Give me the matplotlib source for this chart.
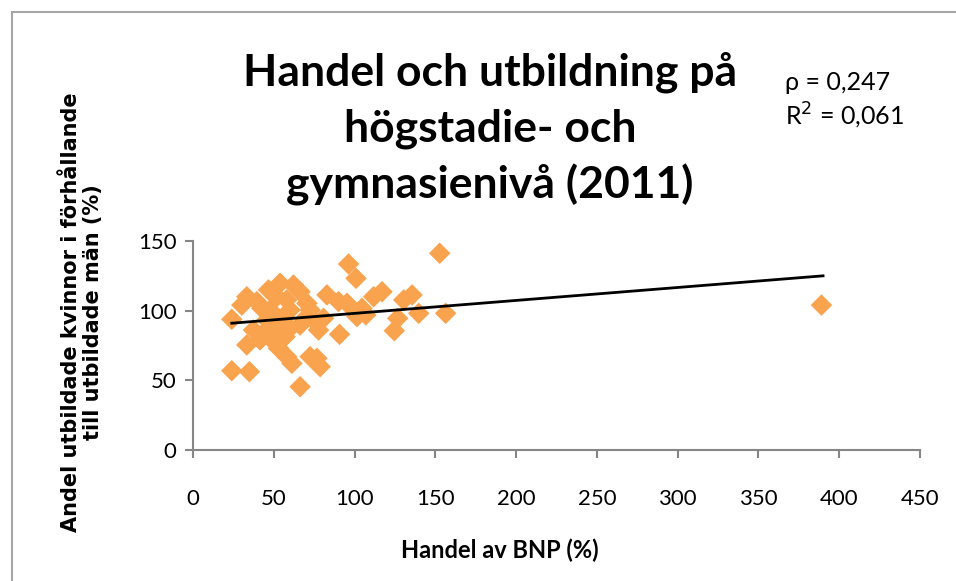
import matplotlib
matplotlib.use("Agg")
import matplotlib.pyplot as plt
from matplotlib.patches import Rectangle

# Handel av BNP (%) och andel utbildade kvinnor/män (%)
handel = [152.7, 96.3, 100.9, 24, 24, 34.9, 66.3, 90.7, 124.6, 126.7,
          139.7, 156.4, 130.4, 135.6, 117, 111.8, 104.6, 101.5, 82.9, 90.1,
          95.3, 77.7, 76.7, 78.7, 72.5, 61.2, 58, 52.9, 48.8, 33.3,
          41.5, 37.4, 43.6, 33.3, 30.2, 39.5, 46.7, 53.9, 62.2, 66.3,
          51.9, 58, 70.5, 72.5, 60.1, 47.7, 42.6, 60.1, 66.3, 53.9,
          70.5, 74.6, 45.7, 50.8, 57, 80.8, 101.5, 107, 389]
andel = [141.2, 133.5, 123.2, 93.8, 56.9, 56.2, 45.4, 83, 85.6, 94.5,
         98.1, 98.1, 107.7, 111.3, 113.6, 110, 101.7, 98.1, 111.3, 106.5,
         105.3, 86.1, 65.8, 59.8, 67, 62.2, 67, 73, 79, 75.4,
         79, 86.1, 83.8, 110, 104, 106.5, 114.9, 119.7, 118.4, 113.6,
         110, 107.7, 105.3, 100.5, 100.5, 100.5, 101.7, 87.4, 89.7, 93.3,
         95.7, 93.3, 93.3, 86.1, 81.3, 94.5, 95.7, 97, 104]

# trendlinjens ändpunkter
trend_x = [24, 390]
trend_y = [91, 125]

xticks = [0, 50, 100, 150, 200, 250, 300, 350, 400, 450]
yticks = [0, 50, 100, 150]

grey = "#868686"
font = "Lato"

fig = plt.figure(figsize=(9.56, 5.81), dpi=100)
fig.patches.append(Rectangle((12 / 956, -0.1), 1.2, 1 - 12 / 581 + 0.1,
                             transform=fig.transFigure, fill=False,
                             edgecolor="#a6a6a6", linewidth=1.5))

ax = fig.add_axes([193 / 956, 1 - 450 / 581, 727 / 956, 209 / 581])
ax.scatter(handel, andel, marker="D", s=120, color="#f9a34f",
           edgecolors="none", zorder=2)
ax.plot(trend_x, trend_y, color="black", linewidth=2, zorder=3)

ax.set_xlim(0, 450)
ax.set_ylim(0, 150)
ax.set_xticks(xticks)
ax.set_yticks(yticks)
for s in ["top", "right"]:
    ax.spines[s].set_visible(False)
for s in ["left", "bottom"]:
    ax.spines[s].set_color(grey)
    ax.spines[s].set_linewidth(1.5)
ax.tick_params(direction="out", length=6, width=1.5, color=grey,
               labelsize=16, pad=6)
ax.tick_params(axis="x", pad=22)
for lab in ax.get_xticklabels() + ax.get_yticklabels():
    lab.set_fontfamily(font)

fig.text(500 / 956, 1 - 550 / 581, "Handel av BNP (%)", ha="center",
         va="center", fontsize=17, fontweight="bold", fontfamily=font)
fig.text(82 / 956, 1 - 312 / 581,
         "Andel utbildade kvinnor i förhållande\ntill utbildade män (%)",
         ha="center", va="center", rotation=90, fontsize=15,
         fontweight="bold", fontfamily="DejaVu Sans", linespacing=1.1)

fig.text(490 / 956, 1 - 129 / 581,
         "Handel och utbildning på\nhögstadie- och\ngymnasienivå (2011)",
         ha="center", va="center", fontsize=32, fontweight="bold",
         fontfamily=font, linespacing=1.45)
fig.text(785 / 956, 1 - 82 / 581, "ρ = 0,247", fontsize=18, fontfamily=font,
         va="center")
fig.text(785 / 956, 1 - 116 / 581, "R$^2$ = 0,061", fontsize=18,
         fontfamily=font, va="center")

fig.savefig("out.png", dpi=100)
